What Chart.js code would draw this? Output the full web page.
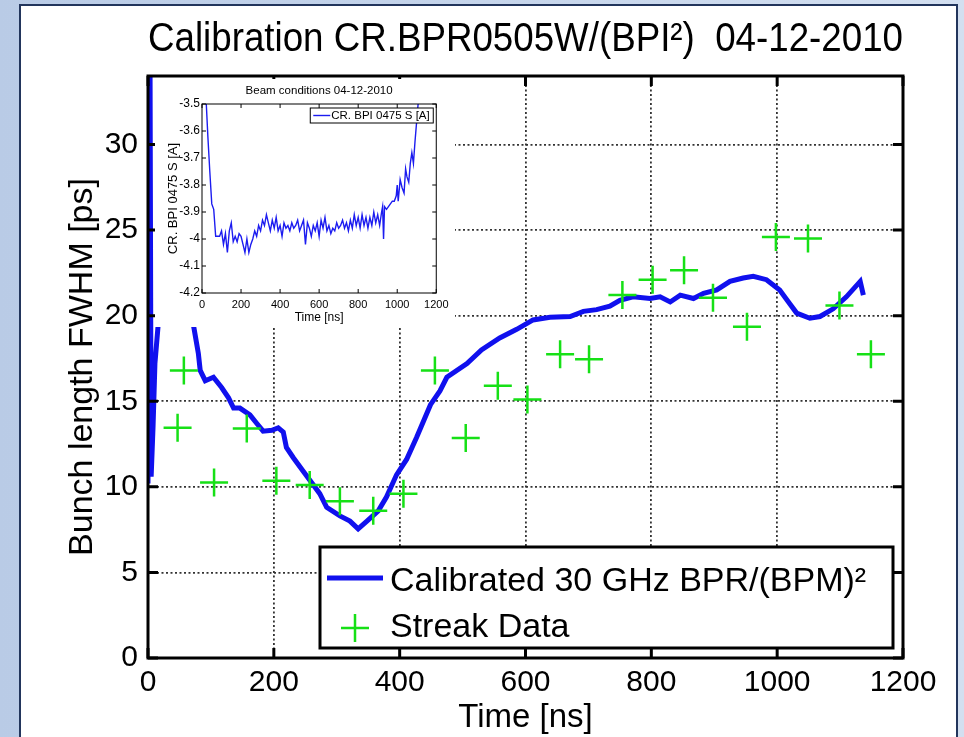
<!DOCTYPE html>
<html>
<head>
<meta charset="utf-8">
<title>Calibration CR.BPR0505W</title>
<script src="https://cdn.jsdelivr.net/npm/chart.js@4.4.1/dist/chart.umd.min.js"></script>
<style>
    html, body { margin: 0; padding: 0; }
    body {
        width: 964px; height: 737px; overflow: hidden; position: relative;
        background: linear-gradient(to right, #b9cbe6, #d3dff0);
    }
    #panel {
        position: absolute; left: 19px; top: 4px; width: 935px; height: 760px;
        background: #fff; border: 2px solid #22355c;
    }
    #mainChart { position: absolute; left: 0; top: 0; }
    #insetChart { position: absolute; left: 155px; top: 79px; background: #fff; }
</style>
</head>
<body>
<div id="panel"></div>
<canvas id="mainChart" width="964" height="737"></canvas>
<canvas id="insetChart" width="300" height="248"></canvas>
<script>
/* ====== DATA ====== */
// calibrated BPR/(BPM)^2 curve, time [ns] / bunch length [ps]
const curveTime = [0, 3, 5, 8, 11, 16, 22, 30, 42, 55, 64, 72, 80, 83, 91, 104, 117, 128, 136, 146,
    162, 173, 183, 197, 207, 215, 220, 231, 247, 257, 273, 284, 305, 321, 334, 348, 366, 379, 395,
    411, 427, 449, 464, 475, 507, 530, 559, 586, 612, 639, 671, 692, 713, 734, 750, 771, 798, 814,
    830, 846, 867, 883, 904, 925, 946, 962, 983, 1004, 1020, 1031, 1052, 1068, 1089, 1110, 1132, 1137];
const curveLen = [10.2, 38, 10.6, 13.5, 17.2, 19.4, 20.5, 22.0, 23.5, 22.5, 21.0, 19.5, 17.8, 16.8, 16.2, 16.4, 15.8, 15.2, 14.6, 14.6,
    14.2, 13.7, 13.25, 13.3, 13.45, 13.2, 12.3, 11.7, 10.9, 10.4, 9.6, 8.8, 8.3, 8.0, 7.55, 8.0, 8.6, 9.4, 10.7,
    11.6, 12.9, 14.8, 15.6, 16.4, 17.2, 18.0, 18.7, 19.2, 19.75, 19.9, 19.95, 20.25, 20.35, 20.55, 20.9, 21.1, 21.0, 21.1,
    20.8, 21.2, 21.0, 21.3, 21.5, 22.0, 22.2, 22.3, 22.1, 21.5, 20.7, 20.15, 19.85, 19.95, 20.4, 21.1, 22.0, 21.2];

// streak camera measurements
const streakTime = [47, 57, 105, 157, 204, 257, 305, 358, 406, 456, 505, 556, 603, 655, 701, 754,
    802, 852, 898, 952, 998, 1049, 1099, 1149];
const streakLen = [13.45, 16.8, 10.25, 13.4, 10.35, 10.1, 9.15, 8.6, 9.6, 16.8, 12.85, 15.9, 15.1, 17.75, 17.45, 21.2,
    22.1, 22.65, 21.05, 19.35, 24.6, 24.5, 20.6, 17.75];

// inset: beam current CR.BPI0475S [A]
const beamTime = [20, 30, 40, 50, 60, 70, 80, 90, 100, 110, 120, 130, 140, 150, 160, 170, 180, 190, 200,
    210, 220, 230, 240, 250, 260, 270, 280, 290, 300, 310, 320, 330, 340, 350, 360, 370, 380, 390, 400,
    410, 420, 430, 440, 450, 460, 470, 480, 490, 500, 510, 520, 530, 540, 550, 560, 570, 580, 590, 600,
    610, 620, 630, 640, 650, 660, 670, 680, 690, 700, 710, 720, 730, 740, 750, 760, 770, 780, 790, 800,
    810, 820, 830, 840, 850, 860, 870, 880, 890, 900, 910, 920, 925, 930, 935, 945, 955, 965, 975, 985,
    995, 1000, 1005, 1015, 1025, 1035, 1043, 1050, 1059, 1067, 1075, 1083, 1091, 1099, 1107, 1115];
const beamCurrent = [-3.47, -3.62, -3.75, -3.87, -3.89, -3.99, -3.99, -3.99, -3.97, -4.02, -3.98, -4.05, -3.97, -3.94, -4.01, -3.99, -4.01, -3.98, -3.99,
    -4.02, -4.05, -4.00, -4.05, -4.02, -4.00, -3.97, -3.99, -3.95, -3.97, -3.93, -3.95, -3.91, -3.94, -3.97, -3.93, -3.96, -3.92, -3.97, -3.95,
    -3.99, -3.94, -3.96, -3.95, -3.97, -3.94, -3.96, -3.95, -3.93, -3.97, -3.95, -3.93, -4.02, -3.94, -3.96, -3.99, -3.95, -3.97, -3.94, -3.99,
    -3.93, -3.96, -3.92, -3.97, -3.95, -3.98, -3.96, -3.97, -3.94, -3.96, -3.95, -3.93, -3.96, -3.94, -3.97, -3.93, -3.96, -3.91, -3.95, -3.92,
    -3.96, -3.91, -3.95, -3.92, -3.96, -3.92, -3.95, -3.90, -3.94, -3.91, -3.95, -3.90, -3.88, -4.00, -3.88, -3.89, -3.88, -3.87, -3.86, -3.86,
    -3.84, -3.80, -3.86, -3.78, -3.81, -3.83, -3.74, -3.77, -3.79, -3.72, -3.68, -3.72, -3.64, -3.57, -3.50, -3.42];

/* ====== STYLE ====== */
const FONT = "'Liberation Sans', Arial, sans-serif";
const BLUE = "#1010ee";
const GREEN = "#16e016";

const toPoints = (xs, ys) => xs.map((x, i) => ({ x: x, y: ys[i] }));
const font = (size) => ({ family: FONT, size: size, lineHeight: 1, weight: "normal" });

// black box around the axes with inward ticks on all four sides
const axesBox = {
    id: "axesBox",
    afterDatasetsDraw(chart, args, o) {
        const { ctx, chartArea: a, scales: { x, y } } = chart;
        ctx.save();
        ctx.strokeStyle = "#000";
        ctx.lineWidth = o.width;
        ctx.beginPath();
        x.ticks.forEach(t => {
            const px = x.getPixelForValue(t.value);
            ctx.moveTo(px, a.bottom); ctx.lineTo(px, a.bottom - o.len);
            ctx.moveTo(px, a.top); ctx.lineTo(px, a.top + o.len);
        });
        y.ticks.forEach(t => {
            const py = y.getPixelForValue(t.value);
            ctx.moveTo(a.left, py); ctx.lineTo(a.left + o.len, py);
            ctx.moveTo(a.right, py); ctx.lineTo(a.right - o.len, py);
        });
        ctx.stroke();
        ctx.strokeRect(a.left, a.top, a.right - a.left, a.bottom - a.top);
        ctx.restore();
    }
};

// matlab style legend: white box with black frame inside the axes
const boxLegend = {
    id: "boxLegend",
    afterDraw(chart, args, o) {
        const { ctx, chartArea: a } = chart;
        const x0 = a.right - o.right - o.width;
        const y0 = o.anchor === "top" ? a.top + o.offset : a.bottom - o.offset - o.height;
        ctx.save();
        ctx.fillStyle = "#fff";
        ctx.fillRect(x0, y0, o.width, o.height);
        ctx.lineWidth = o.borderWidth;
        ctx.strokeStyle = "#000";
        ctx.strokeRect(x0, y0, o.width, o.height);
        ctx.font = o.fontSize + "px " + FONT;
        ctx.textBaseline = "middle";
        chart.data.datasets.forEach((ds, i) => {
            const ry = y0 + o.rows[i];
            const sx = x0 + o.sampleX;
            ctx.strokeStyle = ds.borderColor;
            ctx.lineWidth = ds.borderWidth;
            ctx.beginPath();
            if (ds.legendStyle === "line") {
                ctx.moveTo(sx, ry); ctx.lineTo(sx + o.sampleLen, ry);
            } else {
                const cx = sx + o.sampleLen / 2;
                ctx.moveTo(cx - o.cross, ry); ctx.lineTo(cx + o.cross, ry);
                ctx.moveTo(cx, ry - o.cross); ctx.lineTo(cx, ry + o.cross);
            }
            ctx.stroke();
            ctx.fillStyle = "#000";
            ctx.fillText(ds.label, x0 + o.textX, ry + o.textDy[i]);
        });
        ctx.restore();
    }
};

/* ====== MAIN CHART ====== */
new Chart(document.getElementById("mainChart"), {
    type: "scatter",
    data: {
        datasets: [
            {
                label: "Calibrated 30 GHz BPR/(BPM)²",
                data: toPoints(curveTime, curveLen),
                showLine: true,
                borderColor: BLUE,
                borderWidth: 5,
                pointRadius: 0,
                order: 2,
                legendStyle: "line"
            },
            {
                label: "Streak Data",
                data: toPoints(streakTime, streakLen),
                pointStyle: "cross",
                pointRadius: 14,
                borderColor: GREEN,
                borderWidth: 2.5,
                order: 1,
                legendStyle: "cross"
            }
        ]
    },
    options: {
        responsive: false,
        animation: false,
        events: [],
        layout: { padding: { left: 20, right: 61, top: 0, bottom: 0 } },
        scales: {
            x: {
                type: "linear", min: 0, max: 1200,
                afterFit: s => { s.height = 79; },
                ticks: { stepSize: 200, padding: 10, color: "#000", font: font(30), maxRotation: 0, callback: v => String(v) },
                grid: { color: "#333", lineWidth: 1.8, drawTicks: false },
                border: { display: false, dash: [2, 2.5] },
                title: { display: true, text: "Time [ns]", color: "#000", font: font(33), padding: { top: 0, bottom: 2.5 } }
            },
            y: {
                type: "linear", min: 0, max: 34,
                afterFit: s => { s.width = 128; },
                ticks: { stepSize: 5, includeBounds: false, padding: 10, color: "#000", font: font(30), callback: v => String(v) },
                grid: { color: "#333", lineWidth: 1.8, drawTicks: false },
                border: { display: false, dash: [2, 2.5] },
                title: { display: true, text: "Bunch length FWHM [ps]", color: "#000", font: font(34), padding: { top: 46, bottom: 0 } }
            }
        },
        plugins: {
            legend: { display: false },
            tooltip: { enabled: false },
            title: {
                display: true, fullSize: false,
                text: "Calibration CR.BPR0505W/(BPI²)  04-12-2010",
                color: "#000", font: font(40),
                padding: { top: 20, bottom: 16 }
            },
            axesBox: { width: 3, len: 10 },
            boxLegend: {
                width: 573, height: 101, right: 10, offset: 10, anchor: "bottom",
                rows: [31, 81], textDy: [4, 0], sampleX: 7, sampleLen: 56, textX: 70,
                cross: 14, fontSize: 34, borderWidth: 3
            }
        }
    },
    plugins: [axesBox, boxLegend]
});

/* ====== INSET – BEAM CONDITIONS ====== */
new Chart(document.getElementById("insetChart"), {
    type: "scatter",
    data: {
        datasets: [{
            label: "CR. BPI 0475 S [A]",
            data: toPoints(beamTime, beamCurrent),
            showLine: true,
            borderColor: "#1c1cf0",
            borderWidth: 1.4,
            pointRadius: 0,
            legendStyle: "line"
        }]
    },
    options: {
        responsive: false,
        animation: false,
        events: [],
        layout: { padding: { left: 0, right: 4, top: 0, bottom: 0 } },
        scales: {
            x: {
                type: "linear", min: 0, max: 1200,
                afterFit: s => { s.height = 34; },
                ticks: { stepSize: 200, padding: 6.5, color: "#000", font: font(11), maxRotation: 0, callback: v => String(v) },
                grid: { display: false, drawTicks: false },
                border: { display: false },
                title: { display: true, text: "Time [ns]", color: "#000", font: font(12), padding: { top: 0, bottom: 3 } }
            },
            y: {
                type: "linear", min: -4.2, max: -3.5,
                afterFit: s => { s.width = 47; },
                ticks: { stepSize: 0.1, padding: 2, color: "#000", font: font(12), callback: v => String(Math.round(v * 10) / 10) },
                grid: { display: false, drawTicks: false },
                border: { display: false },
                title: { display: true, text: "CR. BPI 0475 S [A]", color: "#000", font: font(13), padding: { top: 11.5, bottom: 0 } }
            }
        },
        plugins: {
            legend: { display: false },
            tooltip: { enabled: false },
            title: {
                display: true, fullSize: false,
                text: "Beam conditions 04-12-2010",
                color: "#000", font: font(11.5),
                padding: { top: 6.25, bottom: 7.25 }
            },
            axesBox: { width: 1, len: 4 },
            boxLegend: {
                width: 123, height: 15, right: 3, offset: 4, anchor: "top",
                rows: [7.5], textDy: [0.5], sampleX: 3, sampleLen: 17, textX: 21,
                cross: 4, fontSize: 11.5, borderWidth: 1
            }
        }
    },
    plugins: [axesBox, boxLegend]
});
</script>
</body>
</html>
